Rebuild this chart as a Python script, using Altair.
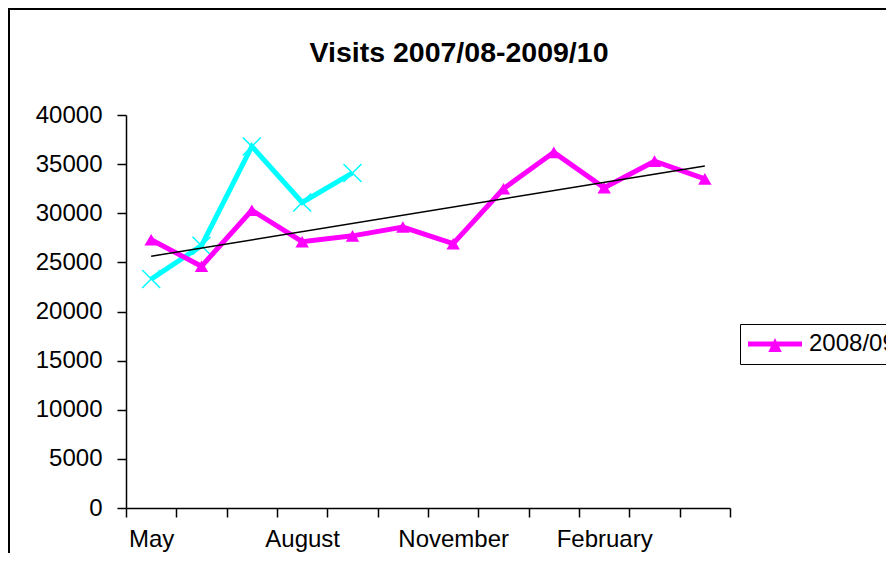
import altair as alt
import pandas as pd

months = ["May", "June", "July", "August", "September", "October",
          "November", "December", "January", "February", "March", "April"]
shown_labels = ["May", "August", "November", "February"]
visits_0809 = [27300, 24600, 30300, 27100, 27700, 28600,
               26900, 32500, 36200, 32600, 35300, 33500]
visits_0910 = [23300, 26700, 36800, 31100, 34100]
y_ticks = [0, 5000, 10000, 15000, 20000, 25000, 30000, 35000, 40000]

rows = []
for i, v in enumerate(visits_0809):
    rows.append({"month": months[i], "idx": i + 1, "visits": v, "season": "2008/09"})
for i, v in enumerate(visits_0910):
    rows.append({"month": months[i], "idx": i + 1, "visits": v, "season": "2009/10"})
df = pd.DataFrame(rows)
months_df = pd.DataFrame({"month": months, "idx": list(range(1, len(months) + 1))})

FONT = "Liberation Sans"
MAGENTA = "#FF00FF"
CYAN = "#00FFFF"

label_list = "[" + ",".join("'%s'" % m for m in shown_labels) + "]"

x_enc = alt.X(
    "month:N", sort=months,
    scale=alt.Scale(type="band", paddingInner=0, paddingOuter=0),
    axis=alt.Axis(
        title=None, tickBand="extent", tickSize=9, labelPadding=10,
        labelAngle=0, labelOverlap=False, labelFont=FONT, labelFontSize=24,
        labelColor="black", domainColor="black", tickColor="black",
        domainWidth=1.5, tickWidth=1.5, grid=False,
        labelExpr="indexof(%s, datum.label) >= 0 ? datum.label : ''" % label_list,
    ),
)
y_enc = alt.Y(
    "visits:Q",
    scale=alt.Scale(domain=[0, 40000], nice=False),
    axis=alt.Axis(
        title=None, values=y_ticks, format="d", tickSize=9, labelPadding=15,
        labelFont=FONT, labelFontSize=24, labelColor="black",
        domainColor="black", tickColor="black", domainWidth=1.5, tickWidth=1.5,
        grid=False,
    ),
)

base = alt.Chart(df)

border = alt.Chart(df).mark_rect(fill=None, stroke="black", strokeWidth=2).encode(
    x=alt.value(-117), x2=alt.value(900), y=alt.value(-106), y2=alt.value(600)
)

line_0809 = base.transform_filter(alt.datum.season == "2008/09").mark_line(
    color=MAGENTA, strokeWidth=5
).encode(x=x_enc, y=y_enc)

legend_symbol = "M-1,-0.09H1V0.09H-1Z M0,-0.22L0.25,0.3H-0.25Z"
pts_0809 = base.transform_filter(alt.datum.season == "2008/09").mark_point(
    shape="triangle-up", filled=True, size=180, opacity=1
).encode(
    x=x_enc, y=y_enc,
    color=alt.Color(
        "season:N",
        scale=alt.Scale(domain=["2008/09"], range=[MAGENTA]),
        legend=alt.Legend(
            title=None, orient="none", legendX=614, legendY=209,
            strokeColor="black", fillColor="white", padding=8, cornerRadius=0,
            symbolType=legend_symbol, symbolSize=2916,
            symbolFillColor=MAGENTA, symbolStrokeWidth=0, symbolOpacity=1,
            labelFont=FONT, labelFontSize=24, labelColor="black",
            labelOffset=7, clipHeight=24,
        ),
    ),
)

line_0910 = base.transform_filter(alt.datum.season == "2009/10").mark_line(
    color=CYAN, strokeWidth=5
).encode(x=x_enc, y=y_enc)

pts_0910 = base.transform_filter(alt.datum.season == "2009/10").mark_point(
    shape="M-1,-1L1,1M-1,1L1,-1", filled=False, size=324, strokeWidth=1.5,
    color=CYAN, opacity=1
).encode(x=x_enc, y=y_enc)

trend = base.transform_filter(alt.datum.season == "2008/09").transform_regression(
    "idx", "visits"
).transform_lookup(
    lookup="idx", from_=alt.LookupData(data=months_df, key="idx", fields=["month"])
).mark_line(color="black", strokeWidth=1.5).encode(x=x_enc, y=y_enc)

chart = alt.layer(
    border, line_0910, pts_0910, line_0809, pts_0809, trend
).properties(
    width=604, height=393,
    title=alt.TitleParams(
        "Visits 2007/08-2009/10", font=FONT, fontSize=28.5, fontWeight="bold",
        color="black", anchor="middle", dx=31, baseline="alphabetic", offset=-82,
    ),
    autosize=alt.AutoSizeParams(type="none"),
    padding={"left": 118, "top": 107, "right": 156, "bottom": 45},
    background="white",
).configure_view(stroke=None)

chart.save("out.html", embed_options={"renderer": "svg", "actions": False})
